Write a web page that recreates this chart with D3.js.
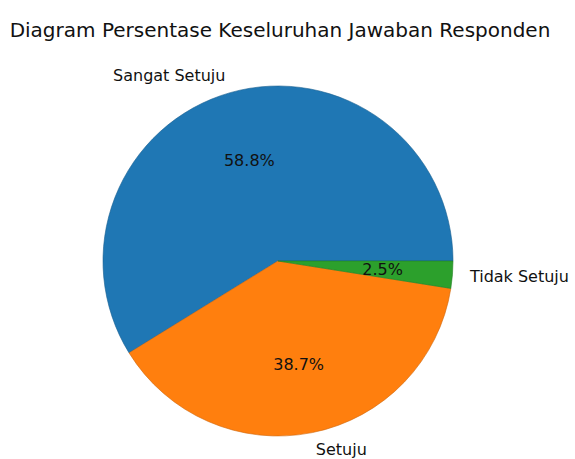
<!DOCTYPE html>
<html lang="en">
<head>
    <meta charset="UTF-8">
    <title>Diagram Persentase Keseluruhan Jawaban Responden</title>
    <style>
        body { margin: 0; background: #fff; font-family: "DejaVu Sans", sans-serif; }
    </style>
</head>
<body>
    <div id="chart"></div>
    <script src="https://d3js.org/d3.v7.min.js"></script>
    <script>
        const labels = ["Sangat Setuju", "Setuju", "Tidak Setuju"];
        const values = [58.8, 38.7, 2.5];
        const colors = ["#1f77b4", "#ff7f0e", "#2ca02c"];

        const width = 575, height = 459;
        const cx = 278, cy = 261, r = 175;

        const svg = d3.select("#chart").append("svg")
            .attr("width", width)
            .attr("height", height);

        // Title
        svg.append("text")
            .attr("x", 280)
            .attr("y", 37)
            .attr("text-anchor", "middle")
            .style("font-size", "20px")
            .style("fill", "#111")
            .text("Diagram Persentase Keseluruhan Jawaban Responden");

        const g = svg.append("g").attr("transform", `translate(${cx},${cy})`);

        // matplotlib style: start at 3 o'clock, counterclockwise
        const pie = d3.pie().sort(null)
            .startAngle(Math.PI / 2)
            .endAngle(Math.PI / 2 - 2 * Math.PI);
        const arcs = pie(values);

        const arc = d3.arc().innerRadius(0).outerRadius(r);
        const pctArc = d3.arc().innerRadius(r * 0.6).outerRadius(r * 0.6);
        const lblArc = d3.arc().innerRadius(r * 1.1).outerRadius(r * 1.1);

        g.selectAll("path.slice")
            .data(arcs)
            .enter().append("path")
            .attr("class", "slice")
            .attr("d", arc)
            .attr("fill", (d, i) => colors[i])
            .attr("stroke", (d, i) => d3.color(colors[i]).darker(0.6))
            .attr("stroke-width", 0.6);

        g.selectAll("text.pct")
            .data(arcs)
            .enter().append("text")
            .attr("class", "pct")
            .attr("transform", d => `translate(${pctArc.centroid(d)})`)
            .attr("text-anchor", "middle")
            .attr("dy", "0.35em")
            .style("font-size", "16px")
            .style("fill", "#111")
            .text(d => d.data.toFixed(1) + "%");

        g.selectAll("text.lbl")
            .data(arcs)
            .enter().append("text")
            .attr("class", "lbl")
            .attr("transform", d => `translate(${lblArc.centroid(d)})`)
            .attr("text-anchor", d => lblArc.centroid(d)[0] > 0 ? "start" : "end")
            .attr("dy", "0.35em")
            .style("font-size", "16px")
            .style("fill", "#111")
            .text((d, i) => labels[i]);
    </script>
</body>
</html>
